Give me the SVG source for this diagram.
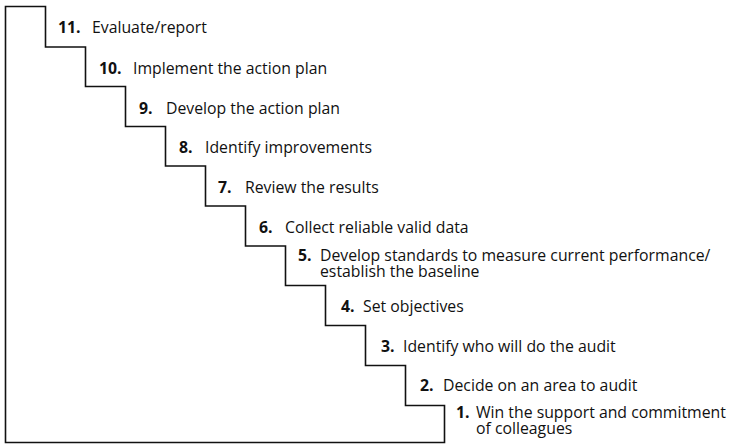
<svg xmlns="http://www.w3.org/2000/svg" width="735" height="445" viewBox="0 0 735 445">
  <style>
    .stair { fill: none; stroke: #111; stroke-width: 1.6; stroke-linejoin: miter; }
    text { font-family: "Open Sans", "Noto Sans", "Liberation Sans", sans-serif; font-size: 15.8px; fill: #111; }
    .n { font-weight: bold; }
  </style>
  <rect width="735" height="445" fill="#fff"/>

  <!-- staircase outline: eleven steps descending left to right -->
  <g id="staircase">
    <path class="stair" d="M5.5,442.5 V6.5 H45.5 V47 H85.5 V86.5 H125.5 V126.5 H165.5 V166 H205.5 V206 H245.5 V246 H285.5 V285.5 H325.5 V325.5 H365.5 V365.5 H405.5 V405.5 H444.5 V442.5 Z"/>
  </g>

  <g id="step11"><text x="58" y="33"><tspan class="n">11.</tspan></text><text x="92" y="33">Evaluate/report</text></g>
  <g id="step10"><text x="99" y="74"><tspan class="n">10.</tspan></text><text x="133" y="74">Implement the action plan</text></g>
  <g id="step9"><text x="139" y="114"><tspan class="n">9.</tspan></text><text x="166" y="114">Develop the action plan</text></g>
  <g id="step8"><text x="179" y="153"><tspan class="n">8.</tspan></text><text x="205" y="153">Identify improvements</text></g>
  <g id="step7"><text x="218" y="193"><tspan class="n">7.</tspan></text><text x="245" y="193">Review the results</text></g>
  <g id="step6"><text x="259" y="233"><tspan class="n">6.</tspan></text><text x="285" y="233">Collect reliable valid data</text></g>
  <g id="step5"><text x="298" y="261"><tspan class="n">5.</tspan></text><text x="320" y="261"><tspan x="320">Develop standards to measure current performance/</tspan><tspan x="320" dy="16">establish the baseline</tspan></text></g>
  <g id="step4"><text x="341" y="312"><tspan class="n">4.</tspan></text><text x="363" y="312">Set objectives</text></g>
  <g id="step3"><text x="381" y="352"><tspan class="n">3.</tspan></text><text x="403" y="352">Identify who will do the audit</text></g>
  <g id="step2"><text x="420" y="391"><tspan class="n">2.</tspan></text><text x="443" y="391">Decide on an area to audit</text></g>
  <g id="step1"><text x="456" y="418"><tspan class="n">1.</tspan></text><text x="476" y="418"><tspan x="476">Win the support and commitment</tspan><tspan x="476" dy="16">of colleagues</tspan></text></g>
</svg>
